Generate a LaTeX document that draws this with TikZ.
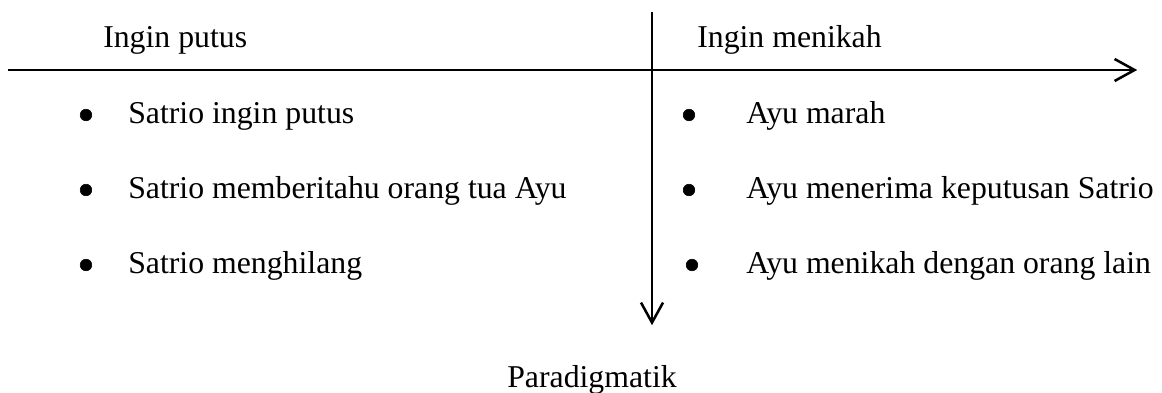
\documentclass[tikz,border=0pt]{standalone}
\usepackage{fontspec}
\setmainfont{Liberation Serif}
\usetikzlibrary{arrows.meta}
\pgfdeclarelayer{edgelayer}
\pgfdeclarelayer{nodelayer}
\pgfsetlayers{edgelayer,nodelayer,main}
\tikzset{font=\fontsize{22.6}{27}\selectfont}
\tikzstyle{none}=[inner sep=0pt]
\tikzstyle{txt}=[inner sep=0pt,anchor=base west]
\tikzstyle{circ}=[circle,fill=black,draw,inner sep=0pt,minimum size=0.29cm]
\tikzstyle{axis}=[line width=1.8pt,-{Straight Barb[length=0.5cm,width=0.55cm,line width=1.8pt]}]

\begin{document}
\begin{tikzpicture}
	\useasboundingbox (0, 0) rectangle (29.05, 9.8);
	\begin{pgfonlayer}{nodelayer}
		\node [style=none] (0) at (0.2, 8.05) {};
		\node [style=none] (1) at (28.43, 8.05) {};
		\node [style=none] (2) at (16.3, 9.5) {};
		\node [style=none] (3) at (16.3, 1.67) {};
		\node [style=txt] (4) at (2.575, 8.625) {Ingin putus};
		\node [style=txt] (5) at (17.425, 8.625) {Ingin menikah};
		\node [style=circ] (6) at (2.15, 6.925) {};
		\node [style=circ] (7) at (2.15, 5.05) {};
		\node [style=circ] (8) at (2.15, 3.175) {};
		\node [style=txt] (9) at (3.2, 6.725) {Satrio ingin putus};
		\node [style=txt] (10) at (3.2, 4.85) {Satrio memberitahu orang tua Ayu};
		\node [style=txt] (11) at (3.2, 2.975) {Satrio menghilang};
		\node [style=circ] (12) at (17.225, 6.925) {};
		\node [style=circ] (13) at (17.225, 5.05) {};
		\node [style=circ] (14) at (17.3, 3.175) {};
		\node [style=txt] (15) at (18.65, 6.725) {Ayu marah};
		\node [style=txt] (16) at (18.65, 4.85) {Ayu menerima keputusan Satrio};
		\node [style=txt] (17) at (18.65, 2.975) {Ayu menikah dengan orang lain};
		\node [style=none, anchor=base] (18) at (14.8, 0.125) {Paradigmatik};
	\end{pgfonlayer}
	\begin{pgfonlayer}{edgelayer}
		\draw [style=axis] (0.center) to (1.center);
		\draw [style=axis] (2.center) to (3.center);
	\end{pgfonlayer}
\end{tikzpicture}
\end{document}
